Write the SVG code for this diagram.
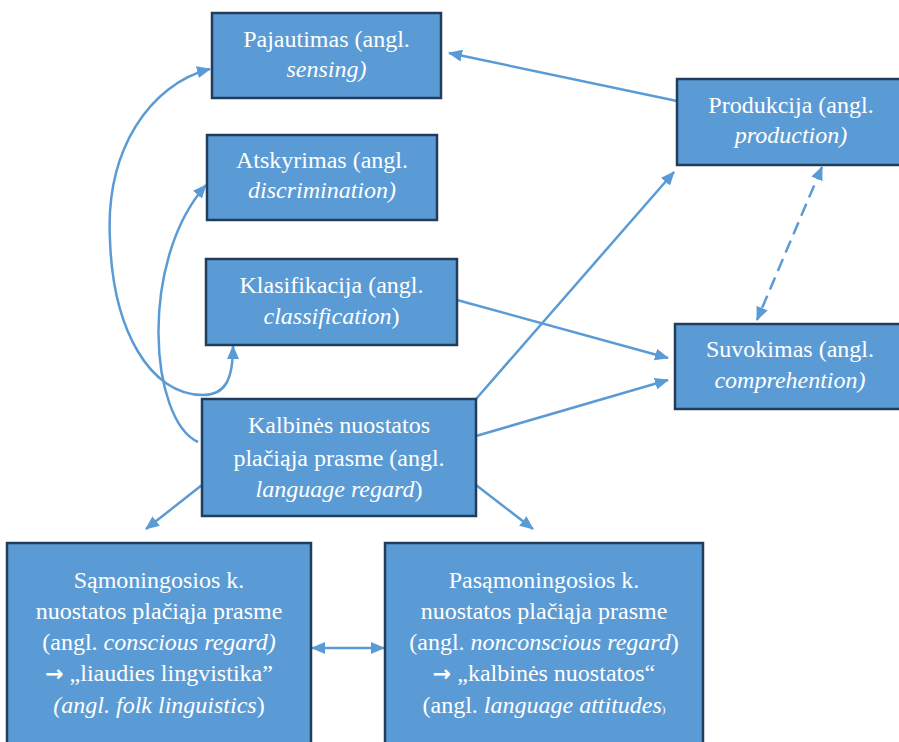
<svg xmlns="http://www.w3.org/2000/svg" width="899" height="742" viewBox="0 0 899 742">
  <style>
    .box { fill: #5B9BD5; stroke: #213D5C; stroke-width: 2.5; }
    .lbl { font-family: 'Liberation Serif', Tinos, 'Times New Roman', serif; font-size: 24px; fill: #FFFFFF; text-anchor: middle; }
    .it { font-style: italic; }
    .sym { font-family: 'DejaVu Sans', sans-serif; font-weight: bold; font-size: 22px; }
    .conn { fill: none; stroke: #5B9BD5; stroke-width: 2.5; }
    .dash { stroke-dasharray: 13 7; }
  </style>
  <defs>
    <marker id="arrow" viewBox="0 0 14 12" refX="13" refY="6" markerWidth="14" markerHeight="12" markerUnits="userSpaceOnUse" orient="auto-start-reverse">
      <path d="M0,0 L14,6 L0,12 Z" fill="#5B9BD5"/>
    </marker>
  </defs>

  <rect width="899" height="742" fill="#FFFFFF"/>

  <!-- connectors -->
  <g id="connectors">
    <!-- production to sensing -->
    <line class="conn" x1="677" y1="101" x2="449" y2="53" marker-end="url(#arrow)"/>
    <!-- language regard to production -->
    <line class="conn" x1="476" y1="399" x2="674" y2="172" marker-end="url(#arrow)"/>
    <!-- classification to comprehension -->
    <line class="conn" x1="457" y1="300" x2="668" y2="358" marker-end="url(#arrow)"/>
    <!-- language regard to comprehension -->
    <line class="conn" x1="476" y1="436" x2="668" y2="380" marker-end="url(#arrow)"/>
    <!-- production <-> comprehension (dashed) -->
    <line class="conn dash" x1="822" y1="167" x2="757" y2="320" marker-start="url(#arrow)" marker-end="url(#arrow)"/>
    <!-- language regard to conscious / nonconscious -->
    <line class="conn" x1="202" y1="485" x2="146" y2="529" marker-end="url(#arrow)"/>
    <line class="conn" x1="476" y1="485" x2="533" y2="529" marker-end="url(#arrow)"/>
    <!-- conscious <-> nonconscious -->
    <line class="conn" x1="312" y1="648" x2="384" y2="648" marker-start="url(#arrow)" marker-end="url(#arrow)"/>
    <!-- language regard to discrimination (curve) -->
    <path class="conn" d="M198,442 C150,420 138,262 206,185" marker-end="url(#arrow)"/>
    <!-- sensing <-> classification (curve) -->
    <path class="conn" d="M210,69 C150,84 105,150 110,240 C113,330 150,395 203,395 C225,395 233,380 233,346" marker-start="url(#arrow)" marker-end="url(#arrow)"/>
  </g>

  <!-- nodes -->
  <g id="sensing">
    <rect class="box" x="212" y="13" width="229" height="85"/>
    <text class="lbl" x="326.5" y="47">Pajautimas (angl.</text>
    <text class="lbl it" x="326.5" y="77">sensing)</text>
  </g>

  <g id="discrimination">
    <rect class="box" x="207" y="135" width="230" height="85"/>
    <text class="lbl" x="322" y="168">Atskyrimas (angl.</text>
    <text class="lbl it" x="322" y="198">discrimination)</text>
  </g>

  <g id="classification">
    <rect class="box" x="206" y="259" width="251" height="86"/>
    <text class="lbl" x="331.5" y="293">Klasifikacija (angl.</text>
    <text class="lbl" x="331.5" y="324"><tspan class="it">classification</tspan>)</text>
  </g>

  <g id="language-regard">
    <rect class="box" x="202" y="399" width="274" height="117"/>
    <text class="lbl" x="339" y="433">Kalbinės nuostatos</text>
    <text class="lbl" x="339" y="466">plačiąja prasme (angl.</text>
    <text class="lbl" x="339" y="497"><tspan class="it">language regard</tspan>)</text>
  </g>

  <g id="production">
    <rect class="box" x="677" y="79" width="230" height="86"/>
    <text class="lbl" x="791" y="113">Produkcija (angl.</text>
    <text class="lbl it" x="791" y="143">production)</text>
  </g>

  <g id="comprehension">
    <rect class="box" x="675" y="324" width="232" height="85"/>
    <text class="lbl" x="790" y="357">Suvokimas (angl.</text>
    <text class="lbl it" x="790" y="388">comprehention)</text>
  </g>

  <g id="conscious-regard">
    <rect class="box" x="7" y="543" width="304" height="210"/>
    <text class="lbl" x="159" y="588">Sąmoningosios k.</text>
    <text class="lbl" x="159" y="619">nuostatos plačiąja prasme</text>
    <text class="lbl" x="159" y="650">(angl. <tspan class="it">conscious regard)</tspan></text>
    <text class="lbl" x="159" y="681"><tspan class="sym">→</tspan> „liaudies lingvistika”</text>
    <text class="lbl" x="159" y="713"><tspan class="it">(angl. folk linguistics</tspan>)</text>
  </g>

  <g id="nonconscious-regard">
    <rect class="box" x="385" y="543" width="318" height="210"/>
    <text class="lbl" x="544" y="588">Pasąmoningosios k.</text>
    <text class="lbl" x="544" y="619">nuostatos plačiąja prasme</text>
    <text class="lbl" x="544" y="650">(angl. <tspan class="it">nonconscious regard</tspan>)</text>
    <text class="lbl" x="544" y="681"><tspan class="sym">→</tspan> „kalbinės nuostatos“</text>
    <text class="lbl" x="544" y="713">(angl. <tspan class="it">language attitudes</tspan><tspan font-size="11">)</tspan></text>
  </g>
</svg>
